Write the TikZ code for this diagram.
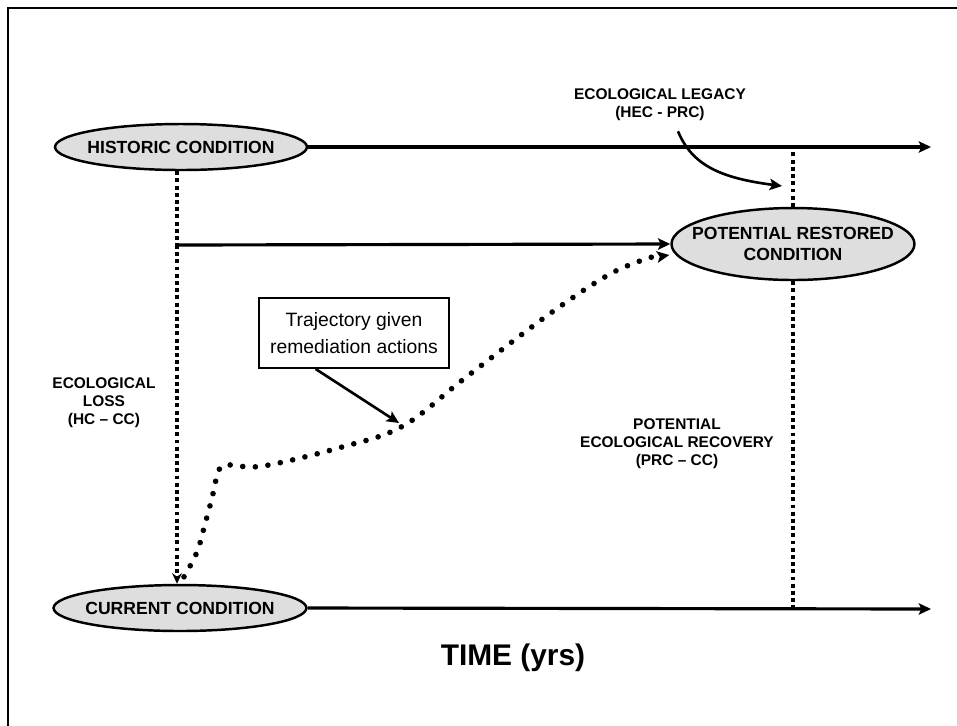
\documentclass[tikz,border=0pt]{standalone}
\usepackage{fontspec}
\setmainfont{Liberation Sans}
\usetikzlibrary{shapes.geometric,calc,arrows.meta}

\begin{document}
\begin{tikzpicture}[x=0.02cm,y=-0.02cm,
  cond/.style={ellipse,draw,line width=1.4pt,fill=black!13,inner ysep=0pt,inner xsep=-3pt,align=center,
    font=\fontsize{10}{11.5}\selectfont\bfseries},
  tip/.style={-{Stealth[length=7pt,width=6.5pt,inset=1.5pt]}},
  timeline/.style={line width=1.8pt,tip},
  dotline/.style={line width=1.9pt,dash pattern=on 2.2pt off 1.9pt},
  trajline/.style={line width=3.2pt,line cap=round,dash pattern=on 0pt off 7.2pt},
  lbl/.style={align=center,inner sep=0pt,font=\fontsize{8.8}{10.2}\selectfont\bfseries},
  pointer/.style={line width=1.5pt,tip}]
\useasboundingbox (0,0) rectangle (957,725);
\draw [line width=1.2pt] (8,760) -- (8,8) -- (970,8);
\node [cond,minimum width=5.04cm,minimum height=0.92cm] (hc) at (181,147) {HISTORIC CONDITION};
\node [cond,minimum width=4.96cm,minimum height=0.92cm] (cc) at (180,608) {CURRENT CONDITION};
\node [cond,inner xsep=-10pt,minimum width=4.86cm,minimum height=1.44cm] (prc) at (793,244) {POTENTIAL RESTORED\\CONDITION};
\coordinate (hcend) at (931,147);
\coordinate (ccend) at (931,609);
\coordinate (lossx) at (177,0);
\coordinate (branch) at (177,245);
\draw [timeline] (hc.east) -- (hcend);
\draw [timeline] (cc.east) -- (ccend);
\draw [timeline] (branch) -- (prc.west);
\draw [dotline] (hc.south -| lossx) -- (branch);
\draw [dotline,-{Stealth[length=6pt,width=5.5pt]}] (branch) -- (cc.north -| lossx);
\draw [dotline] (prc.north) -- (prc.north |- hcend);
\draw [dotline] (prc.south) -- (prc.south |- ccend);
\node [lbl] (legacy) at (660,105) {ECOLOGICAL LEGACY\\(HEC - PRC)};
\node [lbl] (loss) at (104,403) {ECOLOGICAL\\LOSS\\(HC -- CC)};
\node [lbl] (recovery) at (677,444) {POTENTIAL\\ECOLOGICAL RECOVERY\\(PRC -- CC)};
\coordinate (legtip) at (782,186);
\draw [pointer] ([shift={(18,10)}]legacy.south) .. controls (692,165) and (720,178) .. (legtip);
\node [draw,line width=1.1pt,align=center,minimum width=3.8cm,minimum height=1.4cm,
  font=\fontsize{11}{15}\selectfont] (remed) at (354,333) {Trajectory given\\remediation actions};
\coordinate (bend) at (403,426);
\draw [pointer] ($(remed.south west)!0.3!(remed.south east)$) -- ([shift={(-4,-3)}]bend);
\draw [trajline] plot [smooth,tension=0.6] coordinates {([shift={(4,-7)}]cc.north) (197,552) (205,524)
  (212,498) (218,473) (226,465) (263,466) (342,447) (bend) (465,378) (548,315) (610,274) (652,257)};
\draw [line width=1.5pt,tip] (660,256.5) -- ([shift={(-1,11)}]prc.west);
\node [font=\fontsize{17}{19}\selectfont\bfseries] (time) at (513,658) {TIME (yrs)};
\end{tikzpicture}
\end{document}
